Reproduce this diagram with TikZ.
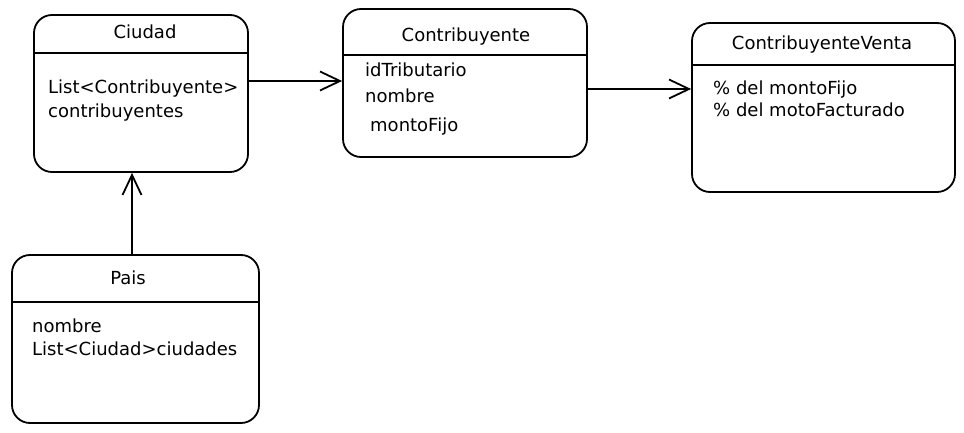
\documentclass[tikz,border=0pt]{standalone}
\usepackage{fontspec}
\setmainfont{DejaVu Sans}
\usetikzlibrary{arrows.meta}
\begin{document}
\begin{tikzpicture}[x=1pt,y=-1pt,
  classbox/.style={draw=black, line width=1.8pt, rounded corners=18pt, inner sep=0pt},
  divider/.style={line width=1.8pt},
  title/.style={anchor=base, inner sep=0pt, font=\fontsize{18}{22}\selectfont},
  attr/.style={anchor=base west, inner sep=0pt, font=\fontsize{18}{22}\selectfont},
  assoc/.style={line width=1.8pt, -{Straight Barb[length=20pt,width=19pt,line width=1.8pt]}}]
\useasboundingbox (0,0) rectangle (964,433);
% boxes
\node[classbox, minimum width=214pt, minimum height=157pt] (ciudad) at (141,93.5) {};
\node[classbox, minimum width=244pt, minimum height=148pt] (contrib) at (465,83) {};
\node[classbox, minimum width=263pt, minimum height=169pt] (venta) at (823.5,107.5) {};
\node[classbox, minimum width=247pt, minimum height=168pt] (pais) at (135.5,339) {};
% dividers
\draw[divider] (ciudad.west |- 0,53) -- (ciudad.east |- 0,53);
\draw[divider] (contrib.west |- 0,55) -- (contrib.east |- 0,55);
\draw[divider] (venta.west |- 0,65) -- (venta.east |- 0,65);
\draw[divider] (pais.west |- 0,302) -- (pais.east |- 0,302);
% titles
\node[title] (tciudad) at (145,39) {Ciudad};
\node[title] (tcontrib) at (466,42) {Contribuyente};
\node[title] (tventa) at (822,50) {ContribuyenteVenta};
\node[title] (tpais) at (128,284) {Pais};
% attributes
\node[attr] (a1) at (48,94) {List<Contribuyente>};
\node[attr] (a2) at (48,118) {contribuyentes};
\node[attr] (b1) at (365,77) {idTributario};
\node[attr] (b2) at (365,103) {nombre};
\node[attr] (b3) at (370,132) {montoFijo};
\node[attr] (c1) at (713,95) {\% del montoFijo};
\node[attr] (c2) at (713,117) {\% del motoFacturado};
\node[attr] (d1) at (32,332) {nombre};
\node[attr] (d2) at (32,355) {List<Ciudad>ciudades};
% connectors
\draw[assoc] (ciudad.east |- 0,81) -- (contrib.west |- 0,81);
\draw[assoc] (contrib.east |- 0,89) -- (venta.west |- 0,89);
\draw[assoc] (pais.north -| 132,0) -- (ciudad.south -| 132,0);
\end{tikzpicture}
\end{document}
